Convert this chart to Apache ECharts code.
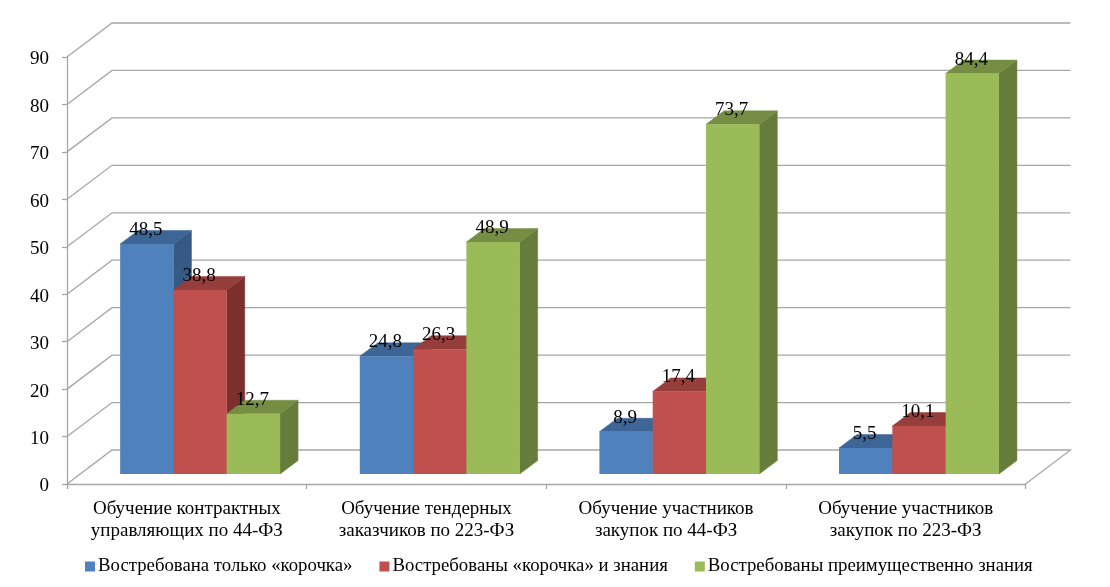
<!DOCTYPE html>
<html><head><meta charset="utf-8">
<style>html,body{margin:0;padding:0;background:#fff}#c{width:1110px;height:587px}</style>
<script src="https://cdn.jsdelivr.net/npm/echarts@6/dist/echarts.min.js"></script>
</head><body><div id="c"></div>
<script>
var categories = ['Обучение контрактных\nуправляющих по 44-ФЗ','Обучение тендерных\nзаказчиков по 223-ФЗ','Обучение участников\nзакупок по 44-ФЗ','Обучение участников\nзакупок по 223-ФЗ'];
var onlyCrust = [48.5, 24.8, 8.9, 5.5];
var crustAndKnowledge = [38.8, 26.3, 17.4, 10.1];
var mostlyKnowledge = [12.7, 48.9, 73.7, 84.4];
var seriesNames = ['Востребована только «корочка»','Востребованы «корочка» и знания','Востребованы преимущественно знания'];
var yTicks = [0,10,20,30,40,50,60,70,80,90];

var FONT = '"Liberation Serif","Times New Roman",serif';
var WALL = [45, 34];       // depth of floor
var FRONT = [13.3, 10];    // gap between front edge of floor and bar front
var DEPTH = [18, 13.5];    // bar depth
var BAR_W = 53.3;
var GRID_C = '#a6a6a6';

var palettes = [
  {front:'#4f81bd', top:'#3d6595', side:'#375a85'},
  {front:'#c0504d', top:'#953e3c', side:'#7b302e'},
  {front:'#9bbb59', top:'#768e44', side:'#667c3a'}
];

function barSeries(k, values){
  var p = palettes[k];
  return {
    type:'custom', name:seriesNames[k], coordinateSystem:'cartesian2d', clip:false,
    itemStyle:{color:p.front}, z:5+k,
    data: values.map(function(v,i){return [i,v];}),
    renderItem:function(params, api){
      var c = api.coord([api.value(0), api.value(1)]);
      var b = api.coord([api.value(0), 0]);
      var x0 = c[0] + FRONT[0] + (k-1.5)*BAR_W, x1 = x0 + BAR_W;
      var yt = c[1] - FRONT[1], yb = b[1] - FRONT[1];
      var dx = DEPTH[0], dy = DEPTH[1];
      function poly(pts, col){ return {type:'polygon', shape:{points:pts}, style:{fill:col, stroke:col, lineWidth:0.5}}; }
      return {type:'group', children:[
        poly([[x1,yb],[x1+dx,yb-dy],[x1+dx,yt-dy],[x1,yt]], p.side),
        poly([[x0,yt],[x0+dx,yt-dy],[x1+dx,yt-dy],[x1,yt]], p.top),
        {type:'rect', shape:{x:x0,y:yt,width:BAR_W,height:yb-yt}, style:{fill:p.front}},
        {type:'text', z2:50, style:{x:(x0+x1)/2 - 1, y:yt-14, text:String(api.value(1)).replace('.',','),
          font:'19px '+FONT, fill:'#000', align:'center', verticalAlign:'middle'}}
      ]};
    }
  };
}

var gridSeries = {
  type:'custom', coordinateSystem:'cartesian2d', clip:false, silent:true, z:1,
  legendHoverLink:false,
  data: yTicks.map(function(t){return [0,t];}),
  renderItem:function(params, api){
    var y = api.coord([0, api.value(1)])[1];
    var g = params.coordSys;
    var pts = [[g.x,y],[g.x+WALL[0],y-WALL[1]],[g.x+g.width+WALL[0],y-WALL[1]]];
    if(api.value(1)===0){ pts.push([g.x+g.width,y]); }
    return {type:'polyline', shape:{points:pts}, style:{fill:null, stroke:GRID_C, lineWidth:1.3}};
  }
};

var chart = echarts.init(document.getElementById('c'), null, {renderer:'canvas'});
chart.setOption({
  animation:false,
  backgroundColor:'#fff',
  grid:{left:67, right:84.5, top:57, bottom:103, containLabel:false},
  xAxis:{type:'category', data:categories,
    axisLine:{lineStyle:{color:GRID_C,width:1.3}},
    axisTick:{show:true,length:5,lineStyle:{color:GRID_C,width:1.3}},
    splitLine:{show:false},
    axisLabel:{interval:0, margin:14, color:'#000', fontFamily:FONT, fontSize:19, lineHeight:22, align:'center'}},
  yAxis:{type:'value', min:0, max:90, interval:10,
    axisLine:{show:true,lineStyle:{color:GRID_C,width:1.3}},
    axisTick:{show:true,length:5,lineStyle:{color:GRID_C,width:1.3}},
    splitLine:{show:false},
    axisLabel:{margin:18, color:'#000', fontFamily:FONT, fontSize:19, verticalAlign:'top', lineHeight:5}},
  legend:{show:true, left:80, top:552, icon:'rect', itemWidth:10, itemHeight:10, itemGap:27,
    data:seriesNames, selectedMode:false,
    textStyle:{color:'#000', fontFamily:FONT, fontSize:18.8, padding:[0,0,0,-2]}},
  series:[gridSeries, barSeries(0,onlyCrust), barSeries(1,crustAndKnowledge), barSeries(2,mostlyKnowledge)]
});
</script></body></html>
